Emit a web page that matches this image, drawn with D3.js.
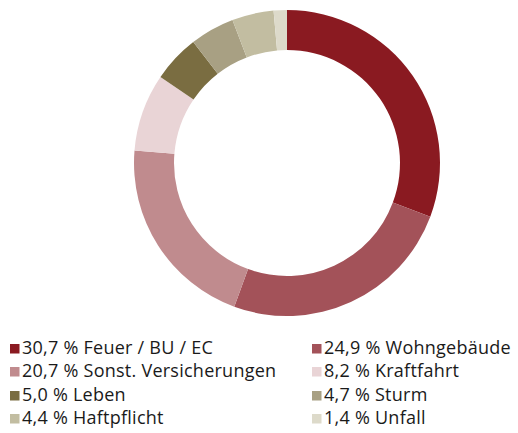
<!DOCTYPE html>
<html><head><meta charset="utf-8">
<script src="https://cdn.jsdelivr.net/npm/d3@7"></script>
<style>body{margin:0;background:#fff}svg{display:block}</style>
</head><body>
<svg id="chart" width="518" height="433"></svg>
<script>
const categories = ["Feuer / BU / EC","Wohngebäude","Sonst. Versicherungen","Kraftfahrt","Leben","Sturm","Haftpflicht","Unfall"];
const values = [30.7,24.9,20.7,8.2,5.0,4.7,4.4,1.4];
const valueLabels = ["30,7","24,9","20,7","8,2","5,0","4,7","4,4","1,4"];
const colors = ["#8a1a21","#a35259","#c08b8e","#e9d4d6","#7a6d41","#a8a083","#c2bda1","#dddaca"];

const svg = d3.select("#chart");
const cx = 287, cy = 163, rO = 153, rI = 113;
const pie = d3.pie().sort(null).value(d => d)(values);
const arc = d3.arc().innerRadius(rI).outerRadius(rO);
svg.append("g").attr("transform",`translate(${cx},${cy})`)
  .selectAll("path").data(pie).join("path")
  .attr("d",arc).attr("fill",(d,i)=>colors[i]);

const leg = svg.append("g").attr("font-family","'Open Sans', sans-serif").attr("font-size",18).attr("letter-spacing",0.25).attr("fill","#1a1a1a");
const colX = [10, 312], rowY = [354, 377, 401, 424];
categories.forEach((c,i)=>{
  const x = colX[i%2], y = rowY[Math.floor(i/2)];
  leg.append("rect").attr("x",x).attr("y",y-10).attr("width",9.5).attr("height",9.5).attr("fill",colors[i]);
  leg.append("text").attr("x",x+12).attr("y",y).text(`${valueLabels[i]} % ${c}`);
});
</script>
</body></html>
